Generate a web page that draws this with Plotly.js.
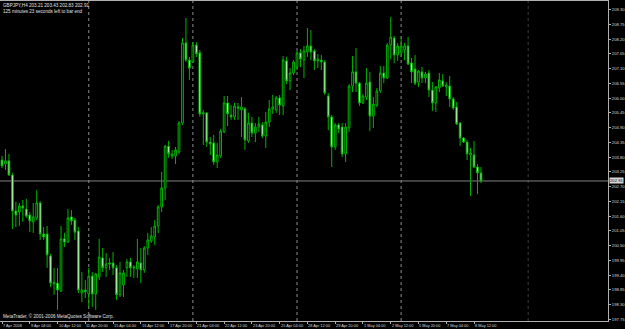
<!DOCTYPE html>
<html><head><meta charset="utf-8">
<script src="https://cdn.plot.ly/plotly-3.0.1.min.js"></script>
<style>html,body{margin:0;padding:0;background:#000;}#chart{width:625px;height:329px;}</style>
</head><body><div id="chart"></div>
<script>
const symbol = "GBPJPY,H4";
const timerText = "125 minutes 23 seconds left to bar end";
const copyrightText = "MetaTrader, \u00a9 2001-2006 MetaQuotes Software Corp.";

const opens = [203.69,203.54,203.66,203.13,201.79,201.75,201.98,201.86,201.64,201.38,
201.53,202.09,200.93,200.93,200.11,199.07,199.10,198.80,200.75,200.63,
201.57,201.45,201.04,198.73,198.84,198.69,199.36,198.69,199.33,200.04,
199.67,199.85,199.85,199.67,198.66,199.03,199.67,199.89,199.70,199.63,
199.85,199.59,200.41,200.67,200.82,201.23,201.94,202.65,204.21,203.84,
203.84,203.99,205.07,208.06,207.42,207.35,207.98,207.69,205.41,205.45,
204.36,204.33,203.62,203.84,204.74,205.82,205.37,205.30,205.67,205.56,
205.60,204.40,205.07,204.70,204.92,205.00,204.59,205.11,205.60,205.56,
206.01,205.71,207.39,206.64,206.94,207.16,207.69,207.42,207.72,207.95,
207.76,207.39,207.42,207.35,206.08,205.30,204.18,205.00,204.92,203.92,
204.89,206.45,206.98,206.56,205.82,206.04,206.60,205.33,205.74,206.27,
206.94,206.75,207.98,208.24,207.61,207.69,207.80,207.95,207.31,207.09,
206.60,206.98,206.75,206.94,206.30,205.82,206.38,206.64,206.42,206.45,
205.97,205.67,205.07,204.51,204.36,203.88,203.88,203.43,203.21];

const highs = [203.84,204.10,203.92,203.21,202.13,202.09,202.20,202.24,201.75,202.09,
202.57,202.16,201.19,201.23,200.19,199.67,199.67,201.23,200.97,201.86,
201.83,201.53,201.19,199.51,199.21,199.67,199.51,199.48,200.75,200.41,
200.22,200.04,200.26,199.77,199.89,199.59,200.00,200.04,199.77,200.75,
200.41,200.48,200.97,201.19,201.45,202.01,203.25,204.25,204.40,204.07,
204.18,205.15,208.24,208.99,207.54,208.09,208.09,207.80,205.56,205.48,
204.55,204.63,204.33,204.85,206.08,206.08,205.74,205.82,205.82,206.04,
205.67,205.45,205.30,205.07,205.30,205.11,205.48,205.93,206.12,206.08,
206.12,207.57,207.54,207.12,207.42,207.76,207.83,207.95,208.62,208.54,
207.83,207.65,207.61,207.42,206.19,205.37,205.07,205.07,205.07,205.07,
206.52,207.57,207.87,206.60,206.15,207.12,206.98,206.04,206.38,207.20,
207.20,208.06,209.03,208.32,208.06,208.28,208.06,208.28,207.50,207.61,
207.05,207.16,206.98,207.05,206.60,206.45,206.94,206.90,206.60,206.83,
206.04,205.86,205.11,204.55,204.44,204.14,204.40,203.54,203.43];

const lows = [203.39,203.32,203.10,201.12,201.19,201.23,201.38,201.53,201.00,200.97,
201.45,200.71,200.71,199.67,198.95,198.66,198.10,198.77,200.45,200.60,
201.27,200.71,198.73,198.39,198.54,198.20,198.20,198.10,199.21,199.51,
199.33,199.59,199.40,198.47,198.58,198.58,199.33,199.33,199.29,199.29,
199.10,199.48,200.15,200.60,200.52,200.97,201.75,202.20,203.77,203.73,
203.54,203.92,205.00,207.35,206.68,207.31,207.54,205.30,204.25,204.18,
203.88,203.51,203.39,203.77,204.70,204.96,205.19,205.19,205.19,204.55,
204.07,204.33,204.55,204.36,204.74,204.51,204.14,204.92,205.41,205.45,
205.37,205.37,206.53,206.30,206.86,207.05,207.16,206.75,207.54,207.42,
207.05,207.12,207.05,206.12,204.81,203.43,204.07,204.70,203.80,203.62,
204.74,206.23,206.23,205.71,205.78,205.93,204.77,204.89,205.67,206.19,
206.56,206.71,207.46,207.31,207.39,207.54,207.42,207.24,206.56,206.49,
206.42,206.56,206.56,206.04,205.52,205.48,206.23,206.42,206.08,205.67,
205.56,205.00,204.21,204.33,203.69,202.35,203.39,202.42,202.83];

const closes = [203.47,203.66,203.13,201.79,201.64,201.98,201.90,201.60,201.42,201.57,
202.09,200.93,200.82,200.15,199.10,199.13,198.84,200.75,200.63,201.53,
201.42,201.00,198.84,198.84,198.78,199.36,198.69,199.44,200.07,199.67,
199.81,199.81,199.67,198.66,199.48,199.48,199.89,199.67,199.67,199.89,
199.59,200.41,200.71,200.86,201.23,201.94,202.65,204.21,203.92,203.92,
204.07,205.07,208.06,207.42,207.12,207.98,207.65,205.41,205.45,204.36,
204.29,203.62,203.88,204.77,205.82,205.41,205.30,205.71,205.63,205.67,
204.44,205.07,204.70,204.92,205.04,204.59,205.11,205.60,205.67,206.01,
205.74,207.42,206.64,206.94,207.35,207.69,207.46,207.76,207.95,207.72,
207.39,207.46,207.35,206.19,205.30,204.18,205.00,204.85,203.92,204.92,
206.45,206.98,206.56,205.82,206.08,206.56,205.33,205.78,206.27,206.94,
206.75,207.98,208.28,207.61,207.95,207.95,207.95,207.27,206.98,206.56,
207.01,206.75,206.90,206.30,205.82,206.42,206.68,206.45,206.49,205.97,
205.63,205.04,204.51,204.36,203.92,203.95,203.43,203.21,202.91];

const timeTickIndex = [0,8,16,24,32,40,48,56,64,72,80,88,96,104,112,120,128,136];
const timeTickLabels = ["7 Apr 2008","9 Apr 04:00","10 Apr 12:00","11 Apr 20:00","15 Apr 04:00",
"16 Apr 12:00","17 Apr 20:00","21 Apr 04:00","22 Apr 12:00","23 Apr 20:00","25 Apr 04:00",
"28 Apr 12:00","29 Apr 20:00","1 May 04:00","2 May 12:00","5 May 20:00","7 May 04:00","8 May 12:00"];
const weekStartIndex = [25,55,85,115];
const futureSeparatorIndex = 151.6;
const priceTicks = [209.30,208.75,208.20,207.65,207.10,206.55,206.00,205.45,204.90,204.35,203.80,
203.25,202.70,202.15,201.60,201.05,200.50,199.95,199.40,198.85,198.30,197.75];

const bars = closes.map((_, i) => i);
const n = closes.length;
const last = n - 1;
const bid = closes[last];
const fmt = v => v.toFixed(2);
const FONT = 'Liberation Sans, Arial, sans-serif';

const trace = {
  type: 'candlestick', x: bars, open: opens, high: highs, low: lows, close: closes,
  increasing: {line: {color: '#00b400', width: 1}, fillcolor: '#000000'},
  decreasing: {line: {color: '#00b400', width: 1}, fillcolor: '#e0ffe0'},
  whiskerwidth: 0, hoverinfo: 'skip', showlegend: false
};

const shapes = weekStartIndex.map(ix => ({
  type: 'line', xref: 'x', yref: 'paper', x0: ix, x1: ix, y0: 0, y1: 1,
  line: {color: '#8c8c8c', width: 1, dash: 'dot'}, layer: 'below'
}));
shapes.push({type: 'line', xref: 'x', yref: 'paper', x0: futureSeparatorIndex, x1: futureSeparatorIndex,
  y0: 0, y1: 1, line: {color: '#3c3c3c', width: 1, dash: 'dot'}, layer: 'below'});
shapes.push({type: 'line', xref: 'paper', yref: 'y', x0: 0, x1: 1, y0: bid, y1: bid,
  line: {color: '#808080', width: 1}, layer: 'below'});

const txt = {family: FONT, size: 4.6, color: '#e0e0e0'};
const annotations = [
  {xref: 'paper', yref: 'paper', x: 0, y: 1, xanchor: 'left', yanchor: 'top', xshift: 2, yshift: -1,
   showarrow: false, align: 'left', font: txt, borderpad: 0,
   text: symbol + ' ' + fmt(opens[last]) + ' ' + fmt(highs[last]) + ' ' + fmt(lows[last]) + ' ' + fmt(closes[last])
     + '<br>' + timerText},
  {xref: 'paper', yref: 'paper', x: 0, y: 0, xanchor: 'left', yanchor: 'bottom', xshift: 2, yshift: 1,
   showarrow: false, font: txt, text: copyrightText, borderpad: 0},
  {xref: 'paper', yref: 'y', x: 1, y: bid, xanchor: 'left', yanchor: 'middle', xshift: 1,
   showarrow: false, text: fmt(bid), bgcolor: '#d8d8d8', borderpad: 0,
   font: {family: FONT, size: 4.2, color: '#000000'}}
];
timeTickIndex.forEach((ix, k) => {
  annotations.push({xref: 'x', yref: 'paper', x: ix, y: 0, xanchor: 'left', yanchor: 'top',
    yshift: -1, xshift: 0, showarrow: false, borderpad: 0, text: timeTickLabels[k],
    font: {family: FONT, size: 3.9, color: '#d8d8d8'}});
});

const layout = {
  width: 625, height: 329,
  margin: {l: 0, r: 17, t: 1, b: 8, pad: 0},
  paper_bgcolor: '#000000', plot_bgcolor: '#000000',
  font: {family: FONT, size: 4.2, color: '#d8d8d8'},
  showlegend: false,
  xaxis: {
    range: [-0.576, 174.6], rangeslider: {visible: false},
    tickmode: 'array', tickvals: timeTickIndex, ticktext: timeTickLabels,
    showticklabels: false,
    ticks: 'outside', ticklen: 2, tickcolor: '#b0b0b0',
    showgrid: false, zeroline: false,
    showline: true, linecolor: '#b0b0b0', linewidth: 1, mirror: true,
    fixedrange: true
  },
  yaxis: {
    side: 'right', range: [197.685, 209.625],
    tickmode: 'array', tickvals: priceTicks, ticktext: priceTicks.map(fmt),
    ticks: 'outside', ticklen: 2, tickcolor: '#b0b0b0',
    tickfont: {size: 4.2, color: '#d8d8d8'},
    showgrid: false, zeroline: false,
    showline: true, linecolor: '#b0b0b0', linewidth: 1, mirror: true,
    fixedrange: true
  },
  shapes: shapes,
  annotations: annotations
};

Plotly.newPlot('chart', [trace], layout, {displayModeBar: false, staticPlot: true});
</script>
</body></html>
